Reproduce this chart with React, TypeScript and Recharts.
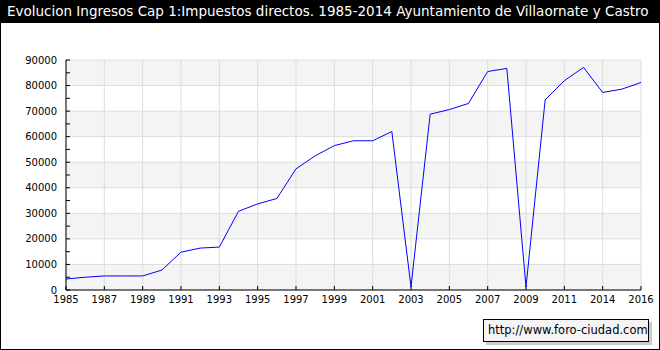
import { CartesianGrid, Line, LineChart, XAxis, YAxis } from "recharts";

const years = [
  "1985", "1986", "1987", "1988", "1989", "1990", "1991", "1992", "1993", "1994",
  "1995", "1996", "1997", "1998", "1999", "2000", "2001", "2002", "2003", "2004",
  "2005", "2006", "2007", "2008", "2009", "2010", "2011", "2013", "2014", "2015",
  "2016",
];

const ingresos = [
  4300, 5000, 5500, 5500, 5500, 7800, 14800, 16400, 16800, 30800,
  33700, 35800, 47400, 52500, 56500, 58400, 58400, 62000, 1200, 68800,
  70600, 73000, 85500, 86700, 1200, 74400, 81900, 87100, 77300, 78600,
  81200,
];

const yTicks = [
  0, 5000, 10000, 15000, 20000, 25000, 30000, 35000, 40000, 45000, 50000,
  55000, 60000, 65000, 70000, 75000, 80000, 85000, 90000,
];
const yGrid = [0, 10000, 20000, 30000, 40000, 50000, 60000, 70000, 80000, 90000];

const TITLE =
  "Evolucion Ingresos Cap 1:Impuestos directos. 1985-2014 Ayuntamiento de Villaornate y Castro";

const data = years.map((year, i) => ({ idx: i, year, value: ingresos[i] }));
const xTicks = years.map((_, i) => i).filter((i) => i % 2 === 0);

const font = "'DejaVu Sans', Verdana, sans-serif";

export default function App() {
  return (
    <div
      style={{
        position: "absolute",
        left: 0,
        top: 0,
        width: 660,
        height: 350,
        background: "#ffffff",
        fontFamily: font,
      }}
    >
      <LineChart
        width={660}
        height={350}
        data={data}
        margin={{ top: 60, right: 19, left: 0, bottom: 0 }}
        style={{ position: "absolute", left: 0, top: 0 }}
      >
        <CartesianGrid
          stroke="#dddddd"
          horizontalValues={yGrid}
          horizontalFill={["#f4f4f4", "#ffffff"]}
          fillOpacity={1}
        />
        <XAxis
          dataKey="idx"
          type="number"
          domain={[0, years.length - 1]}
          ticks={xTicks}
          tickFormatter={(i) => years[Number(i)]}
          interval={0}
          height={60}
          tickSize={-4}
          tickMargin={10}
          axisLine={{ stroke: "#000000" }}
          tickLine={{ stroke: "#000000" }}
          tick={{ fontSize: 10, fill: "#000000", fontFamily: font }}
        />
        <YAxis
          type="number"
          domain={[0, 90000]}
          ticks={yTicks}
          interval={0}
          width={66}
          tickSize={-4}
          tickMargin={13}
          tickFormatter={(v) => (Number(v) % 10000 === 0 ? String(v) : "")}
          axisLine={{ stroke: "#000000" }}
          tickLine={{ stroke: "#000000" }}
          tick={{ fontSize: 10, fill: "#000000", fontFamily: font }}
        />
        <Line
          type="linear"
          dataKey="value"
          stroke="#0000ff"
          strokeWidth={1}
          dot={false}
          activeDot={false}
          isAnimationActive={false}
        />
      </LineChart>

      <div
        style={{
          position: "absolute",
          left: 0,
          top: 0,
          width: 660,
          height: 23,
          background: "#000000",
          color: "#ffffff",
          fontSize: 13.5,
          lineHeight: "23px",
          paddingLeft: 7,
          boxSizing: "border-box",
          whiteSpace: "nowrap",
          overflow: "hidden",
        }}
      >
        {TITLE}
      </div>

      <div
        style={{
          position: "absolute",
          left: 483,
          top: 319,
          width: 166,
          height: 23,
          border: "1px solid #000000",
          background: "#f4f4f4",
          boxShadow: "3px 3px 0 #cccccc",
          boxSizing: "border-box",
          fontSize: 11.5,
          lineHeight: "21px",
          paddingLeft: 4,
          color: "#000000",
          whiteSpace: "nowrap",
        }}
      >
        http://www.foro-ciudad.com
      </div>

      <div
        style={{
          position: "absolute",
          left: 0,
          top: 0,
          width: 660,
          height: 350,
          border: "1px solid #000000",
          boxSizing: "border-box",
          pointerEvents: "none",
        }}
      />
    </div>
  );
}
